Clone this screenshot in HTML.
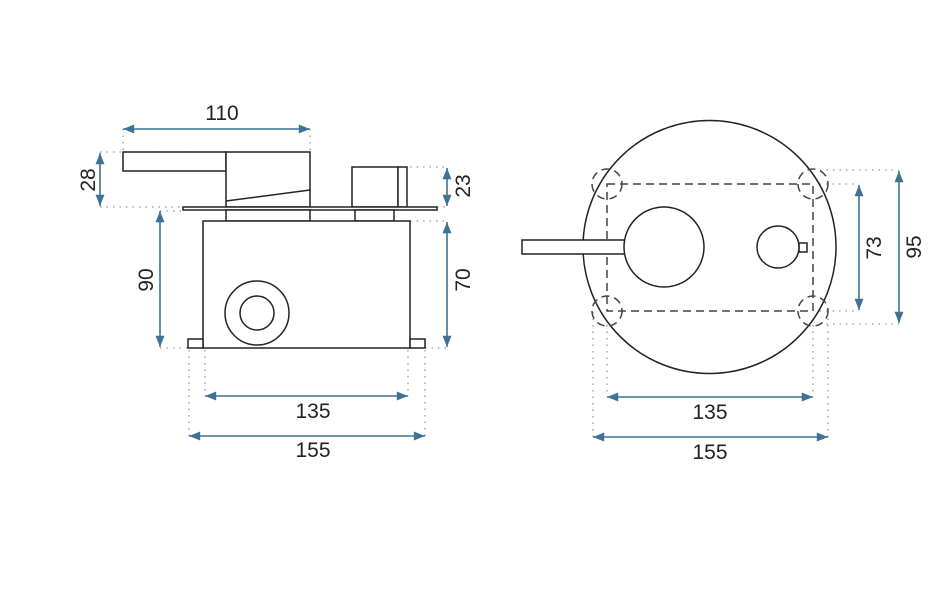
<!DOCTYPE html>
<html><head><style>body{margin:0;background:#fff}svg{display:block}text{font-family:"Liberation Sans",sans-serif;font-size:21px;fill:#222}</style></head>
<body><svg width="951" height="601" viewBox="0 0 951 601">
<defs><marker id="a" viewBox="0 0 10 10" refX="10" refY="5" markerWidth="8" markerHeight="7" orient="auto-start-reverse"><path d="M0,1 L10,5 L0,9 z" fill="#3f7393"/></marker></defs>
<g stroke="#999" stroke-width="1.3" stroke-dasharray="1.5 5" fill="none">
<path d="M123 129V152M310 129V152M100 152H226M100 207H183M160 211H183M160 348H188M410 167H447M437 207H447M410 221H447M425 348H447M189 350V436M205 350V396M408 350V396M425 350V436"/>
<path d="M593 312V437M607 312V397M813 312V397M828 312V437M813 184H859M813 311H859M820 170H899M820 324H899"/>
</g>
<g stroke="#3f7393" stroke-width="1.6" marker-start="url(#a)" marker-end="url(#a)">
<line x1="123" y1="129" x2="310" y2="129"/><line x1="100" y1="153" x2="100" y2="206"/><line x1="160" y1="211" x2="160" y2="347"/>
<line x1="447" y1="168" x2="447" y2="206"/><line x1="447" y1="222" x2="447" y2="347"/>
<line x1="205" y1="396" x2="408" y2="396"/><line x1="189" y1="436" x2="425" y2="436"/>
<line x1="859" y1="185" x2="859" y2="310"/><line x1="899" y1="171" x2="899" y2="323"/>
<line x1="607" y1="397" x2="813" y2="397"/><line x1="593" y1="437" x2="828" y2="437"/>
</g>
<g stroke="#222" stroke-width="1.5" fill="#fff">
<rect x="123" y="152" width="103" height="19"/><rect x="226" y="152" width="84" height="55"/><line x1="226" y1="201" x2="310" y2="190"/>
<rect x="352" y="167" width="46" height="40"/><rect x="398" y="167" width="9" height="40"/>
<rect x="183" y="207" width="254" height="3"/><rect x="226" y="210" width="84" height="11"/><rect x="355" y="210" width="39" height="11"/>
<rect x="203" y="221" width="207" height="127"/><rect x="188" y="339" width="15" height="9"/><rect x="410" y="339" width="15" height="9"/>
<circle cx="257" cy="313" r="32"/><circle cx="257" cy="313" r="17"/>
<circle cx="709.5" cy="247" r="126.5"/>
</g>
<g stroke="#444" stroke-width="1.5" fill="none" stroke-dasharray="8 5">
<rect x="607" y="184" width="206" height="127"/>
<circle cx="607" cy="184" r="15"/><circle cx="813" cy="184" r="15"/><circle cx="607" cy="311" r="15"/><circle cx="813" cy="311" r="15"/>
</g>
<g stroke="#222" stroke-width="1.5" fill="#fff">
<rect x="522" y="240" width="104" height="14"/><circle cx="664" cy="247" r="40"/>
<rect x="799" y="243" width="8" height="9"/><circle cx="778" cy="247" r="21"/>
</g>
<text x="222" y="120" text-anchor="middle">110</text>
<text x="313" y="418" text-anchor="middle">135</text><text x="313" y="457" text-anchor="middle">155</text>
<text x="710" y="419" text-anchor="middle">135</text><text x="710" y="459" text-anchor="middle">155</text>
<text transform="translate(95,180) rotate(-90)" text-anchor="middle">28</text>
<text transform="translate(153,280) rotate(-90)" text-anchor="middle">90</text>
<text transform="translate(470,186) rotate(-90)" text-anchor="middle">23</text>
<text transform="translate(470,280) rotate(-90)" text-anchor="middle">70</text>
<text transform="translate(881,248) rotate(-90)" text-anchor="middle">73</text>
<text transform="translate(921,247) rotate(-90)" text-anchor="middle">95</text>
</svg></body></html>
